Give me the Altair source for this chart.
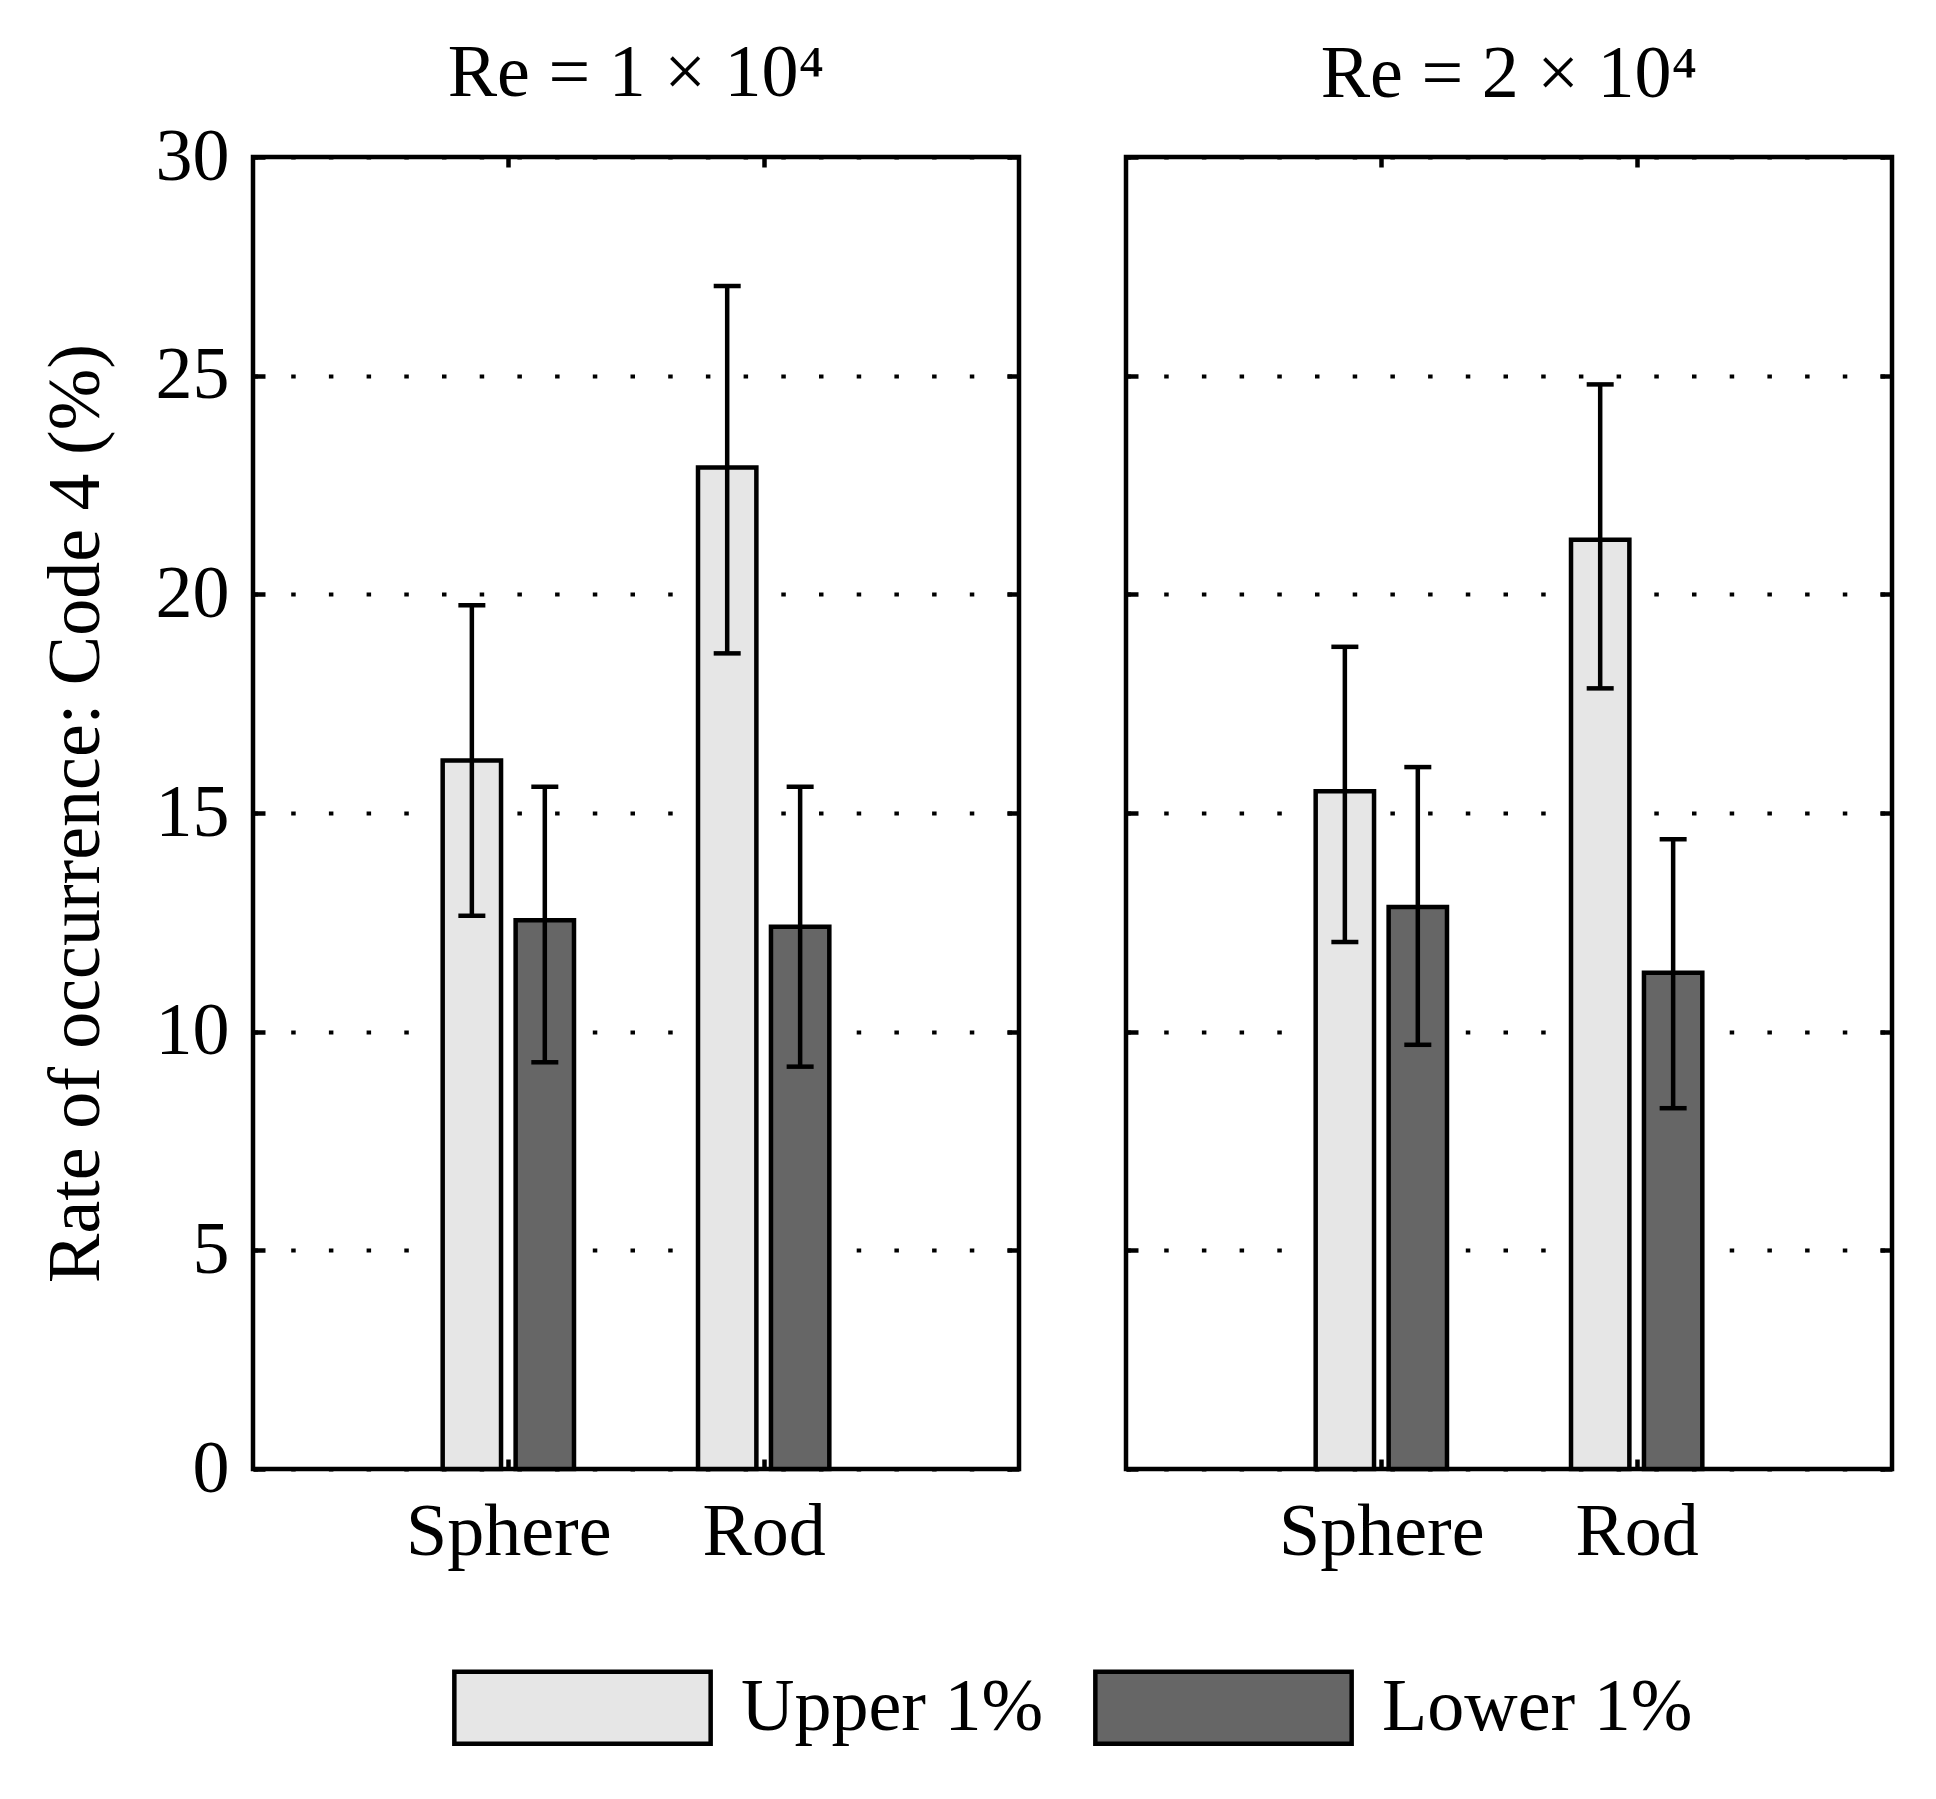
import json
import altair as alt
import pandas as pd

# ---------------- data ----------------
panels = ["Re = 1 × 10⁴", "Re = 2 × 10⁴"]
categories = ["Sphere", "Rod"]
series = ["Upper 1%", "Lower 1%"]

# [panel][category]
upper_mean = [[16.2, 22.9], [15.5, 21.25]]
upper_low = [[12.65, 18.65], [12.05, 17.85]]
upper_high = [[19.75, 27.05], [18.8, 24.8]]

lower_mean = [[12.55, 12.4], [12.85, 11.35]]
lower_low = [[9.3, 9.2], [9.7, 8.25]]
lower_high = [[15.6, 15.6], [16.05, 14.4]]

y_ticks = [0, 5, 10, 15, 20, 25, 30]
x_ticks = [1, 2]
y_title = "Rate of occurrence: Code 4 (%)"

# ---------------- style ----------------
FONT = "Liberation Serif"
FS = 74
LW = 4.5
COLORS = ["#e6e6e6", "#666666"]
PW, PH = 766, 1312
TITLE_OFFSETS = [-50, -16]

# grouped-bar geometry (MATLAB style: 2 series per group)
GROUP = 2 / 3.5
OFFSETS = [-GROUP / 4, GROUP / 4]
BAR_W = GROUP / 2 * 0.8

rows = []
for p, panel in enumerate(panels):
    for c, cat in enumerate(categories):
        for s, (ser, m, lo, hi) in enumerate(
            zip(series, [upper_mean, lower_mean], [upper_low, lower_low], [upper_high, lower_high])
        ):
            center = c + 1 + OFFSETS[s]
            rows.append(
                dict(panel=panel, cat=cat, series=ser, center=center,
                     x0=center - BAR_W / 2, x1=center + BAR_W / 2,
                     value=m[p][c], lo=lo[p][c], hi=hi[p][c])
            )
df = pd.DataFrame(rows)

label_expr = f"{json.dumps(categories)}[datum.value - 1]"


def panel_chart(i):
    d = df[df.panel == panels[i]]
    base = alt.Chart(d)
    xscale = alt.Scale(domain=[0, 3], nice=False, zero=False)
    yscale = alt.Scale(domain=[0, 30], nice=False, zero=False)

    y_axis_kw = dict(orient="left", values=y_ticks, grid=True, gridDash=[4.5, 33.2],
                     gridWidth=4, gridColor="black", gridOpacity=1, tickSize=0,
                     domain=False, labelPadding=24, labelFont=FONT, labelFontSize=FS,
                     labelColor="black")
    if i == 0:
        y_axis_kw.update(title=y_title, titleFont=FONT, titleFontSize=FS,
                         titleFontWeight="normal", titleColor="black", titlePadding=41)
    else:
        y_axis_kw.update(labels=False, title=None)

    legend = alt.Legend(
        orient="none", legendX=255, legendY=1476, direction="horizontal", title=None,
        symbolType="M-1.78,-0.5H1.78V0.5H-1.78Z", symbolSize=144 * 144,
        symbolStrokeColor="black", symbolStrokeWidth=LW, symbolOpacity=1,
        labelFont=FONT, labelFontSize=FS, labelColor="black", labelOffset=84,
        labelLimit=600, columnPadding=42, padding=0,
    )

    bars = base.mark_bar(stroke="black", strokeWidth=LW, opacity=1).encode(
        x=alt.X("x0:Q", scale=xscale,
                axis=alt.Axis(orient="bottom", values=x_ticks, labelExpr=label_expr,
                              tickSize=0, domain=False, grid=False, labelPadding=27,
                              labelFont=FONT, labelFontSize=FS, labelColor="black",
                              labelLimit=600, labelOverlap=False, title=None)),
        x2="x1:Q",
        y=alt.Y("value:Q", scale=yscale, axis=alt.Axis(**y_axis_kw)),
        y2=alt.datum(0),
        color=alt.Color("series:N", scale=alt.Scale(domain=series, range=COLORS), legend=legend),
    )

    rule = base.mark_rule(color="black", strokeWidth=LW).encode(
        x=alt.X("center:Q", scale=xscale,
                axis=alt.Axis(orient="bottom", offset=-10, tickSize=10, values=x_ticks,
                              labels=False, domain=False, grid=False, tickWidth=LW,
                              tickColor="black", title=None)),
        y=alt.Y("lo:Q", scale=yscale,
                axis=alt.Axis(orient="left", offset=-12, tickSize=12, values=y_ticks,
                              labels=False, domain=False, grid=False, tickWidth=LW,
                              tickColor="black", title=None)),
        y2="hi:Q",
    )

    caps = base.transform_fold(["lo", "hi"], as_=["end", "yv"]).mark_tick(
        orient="horizontal", size=27, thickness=LW, color="black", opacity=1
    ).encode(
        x=alt.X("center:Q", scale=xscale,
                axis=alt.Axis(orient="top", offset=-10, tickSize=10, values=x_ticks,
                              labels=False, domain=False, grid=False, tickWidth=LW,
                              tickColor="black", title=None)),
        y=alt.Y("yv:Q", scale=yscale,
                axis=alt.Axis(orient="right", offset=-12, tickSize=12, values=y_ticks,
                              labels=False, domain=False, grid=False, tickWidth=LW,
                              tickColor="black", title=None)),
    )

    return alt.layer(bars, rule, caps).resolve_axis(x="independent", y="independent").properties(
        width=PW, height=PH,
        title=alt.TitleParams(panels[i], font=FONT, fontSize=FS, fontWeight="normal",
                              color="black", anchor="middle", baseline="alphabetic",
                              frame="group", offset=TITLE_OFFSETS[i]),
    )


chart = alt.hconcat(panel_chart(0), panel_chart(1), spacing=97).configure(
    font=FONT, padding={"left": 28, "top": 26, "right": 10, "bottom": 0}
).configure_view(stroke="black", strokeWidth=LW)

chart.save("out.html", embed_options={"renderer": "svg", "actions": False})
